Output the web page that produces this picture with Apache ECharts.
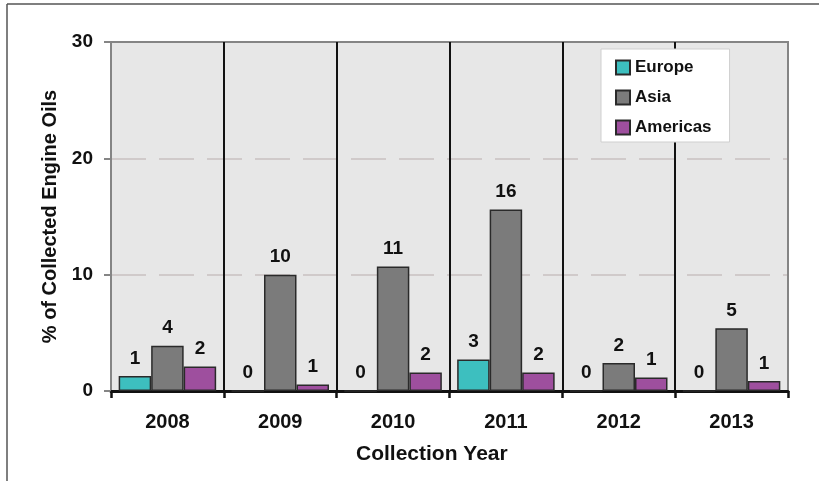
<!DOCTYPE html>
<html>
<head>
<meta charset="utf-8">
<script src="https://cdn.jsdelivr.net/npm/echarts@6/dist/echarts.min.js"></script>
<style>
html,body{margin:0;padding:0;background:#fff;}
#chart{width:819px;height:481px;}
</style>
</head>
<body>
<div id="chart"></div>
<script>
const categories = ['2008', '2009', '2010', '2011', '2012', '2013'];
const europe = [1.3, 0, 0, 2.7, 0, 0];
const asia = [3.9, 10.0, 10.7, 15.6, 2.4, 5.4];
const americas = [2.1, 0.55, 1.6, 1.6, 1.15, 0.85];
const yTicks = [0, 10, 20, 30];

const FONT = '"Liberation Sans", Arial, sans-serif';
const chart = echarts.init(document.getElementById('chart'));

function bar(name, data, color) {
  return {
    name: name,
    type: 'bar',
    data: data,
    barWidth: 32.5,
    barGap: '0%',
    itemStyle: { color: color, borderColor: '#2a2a2a', borderWidth: 1.5 },
    label: {
      show: true,
      position: 'top',
      distance: 8,
      color: '#111',
      fontFamily: FONT,
      fontWeight: 'bold',
      fontSize: 19,
      formatter: p => String(Math.round(p.value))
    },
    emphasis: { disabled: true },
    animation: false
  };
}

chart.setOption({
  animation: false,
  textStyle: { fontFamily: FONT },
  grid: {
    left: 111, right: 31, top: 42, bottom: 90,
    show: true,
    backgroundColor: '#e7e7e7',
    borderColor: '#858585',
    borderWidth: 2
  },
  legend: {
    orient: 'vertical',
    left: 601,
    top: 49,
    itemWidth: 14,
    itemHeight: 14,
    itemGap: 13,
    padding: [10, 18, 6, 14],
    backgroundColor: '#ffffff',
    borderColor: '#cfcfcf',
    borderWidth: 1,
    textStyle: { fontFamily: FONT, fontWeight: 'bold', fontSize: 17, color: '#111' },
    data: [
      { name: 'Europe', icon: 'rect' },
      { name: 'Asia', icon: 'rect' },
      { name: 'Americas', icon: 'rect' }
    ]
  },
  xAxis: {
    type: 'category',
    data: categories,
    axisLine: { lineStyle: { color: '#111', width: 3 } },
    axisTick: { show: true, length: 7, lineStyle: { color: '#111', width: 2.5 } },
    axisLabel: { margin: 21, color: '#111', fontFamily: FONT, fontWeight: 'bold', fontSize: 20 },
    splitLine: {
      show: true,
      lineStyle: { color: ['#858585', '#111', '#111', '#111', '#111', '#111', '#858585'], width: 2 }
    }
  },
  yAxis: {
    type: 'value',
    min: yTicks[0],
    max: yTicks[yTicks.length - 1],
    interval: 10,
    name: '% of Collected Engine Oils',
    nameLocation: 'middle',
    nameGap: 50,
    nameTextStyle: { color: '#111', fontFamily: FONT, fontWeight: 'bold', fontSize: 20 },
    axisLine: { show: true, lineStyle: { color: '#858585', width: 2 } },
    axisTick: { show: true, length: 7, lineStyle: { color: '#858585', width: 2 } },
    axisLabel: { margin: 18, color: '#111', fontFamily: FONT, fontWeight: 'bold', fontSize: 19 },
    splitLine: { show: true, showMinLine: false, showMaxLine: false, lineStyle: { color: '#c9c1c1', width: 1.5, type: [35, 13] } }
  },
  graphic: [
    { type: 'line', shape: { x1: 7, y1: 4, x2: 7, y2: 481 }, style: { stroke: '#555', lineWidth: 1.5 }, silent: true },
    { type: 'line', shape: { x1: 7, y1: 4, x2: 819, y2: 4 }, style: { stroke: '#555', lineWidth: 1.5 }, silent: true },
    {
      type: 'text', left: 356, top: 444,
      style: { text: 'Collection Year', fill: '#111', font: 'bold 21px ' + FONT }
    }
  ],
  series: [
    bar('Europe', europe, '#3dbfbf'),
    bar('Asia', asia, '#7b7b7b'),
    bar('Americas', americas, '#9e4f9e')
  ]
});
</script>
</body>
</html>
